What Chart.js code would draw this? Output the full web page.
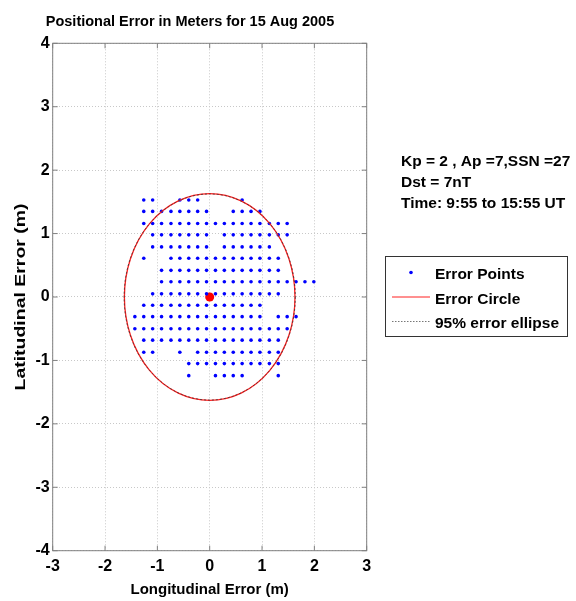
<!DOCTYPE html>
<html>
<head>
<meta charset="utf-8">
<script src="https://cdn.jsdelivr.net/npm/chart.js@4.4.1/dist/chart.umd.min.js"></script>
<style>
  body { margin: 0; background: #fff; }
  #wrap { width: 576px; height: 601px; }
</style>
</head>
<body>
<div id="wrap"><canvas id="grafico"></canvas></div>
<script>
const titulo = "Positional Error in Meters for 15 Aug 2005";
const infoLinhas = ["Kp = 2 , Ap =7,SSN =27", "Dst = 7nT", "Time: 9:55 to 15:55 UT"];
const legendaTextos = ["Error Points", "Error Circle", "95% error ellipse"];
const tituloX = "Longitudinal Error (m)";
const tituloY = "Latitudinal Error (m)";

const xTicks = [-3, -2, -1, 0, 1, 2, 3];
const yTicks = [-4, -3, -2, -1, 0, 1, 2, 3, 4];

// latitude de cada linha de pontos (m)
const latLinhas = [1.53, 1.35, 1.16, 0.98, 0.79, 0.61, 0.42, 0.24, 0.05, -0.13, -0.31, -0.50, -0.68, -0.87, -1.05, -1.24];
// longitudes presentes em cada linha (m)
const lonLinhas = [
    [-1.26, -1.09, -0.57, -0.40, -0.23, 0.62],
    [-1.26, -1.09, -0.92, -0.74, -0.57, -0.40, -0.23, -0.06, 0.45, 0.62, 0.79, 0.96],
    [-1.26, -1.09, -0.92, -0.74, -0.57, -0.40, -0.23, -0.06, 0.11, 0.28, 0.45, 0.62, 0.79, 0.96, 1.14, 1.31, 1.48],
    [-1.09, -0.92, -0.74, -0.57, -0.40, -0.23, -0.06, 0.28, 0.45, 0.62, 0.79, 0.96, 1.14, 1.31, 1.48],
    [-1.09, -0.92, -0.74, -0.57, -0.40, -0.23, -0.06, 0.28, 0.45, 0.62, 0.79, 0.96, 1.14],
    [-1.26, -0.74, -0.57, -0.40, -0.23, -0.06, 0.11, 0.28, 0.45, 0.62, 0.79, 0.96, 1.14, 1.31],
    [-0.92, -0.74, -0.57, -0.40, -0.23, -0.06, 0.11, 0.28, 0.45, 0.62, 0.79, 0.96, 1.14, 1.31],
    [-0.92, -0.74, -0.57, -0.40, -0.23, -0.06, 0.11, 0.28, 0.45, 0.62, 0.79, 0.96, 1.14, 1.31, 1.48, 1.65, 1.82, 1.99],
    [-1.09, -0.92, -0.74, -0.57, -0.40, -0.23, -0.06, 0.11, 0.28, 0.45, 0.62, 0.79, 0.96, 1.14, 1.31],
    [-1.26, -1.09, -0.92, -0.74, -0.57, -0.40, -0.23, -0.06, 0.11, 0.28, 0.45, 0.62, 0.79, 0.96],
    [-1.43, -1.26, -1.09, -0.92, -0.74, -0.57, -0.40, -0.23, -0.06, 0.11, 0.28, 0.45, 0.62, 0.79, 0.96, 1.31, 1.48, 1.65],
    [-1.43, -1.26, -1.09, -0.92, -0.74, -0.57, -0.40, -0.23, -0.06, 0.11, 0.28, 0.45, 0.62, 0.79, 0.96, 1.14, 1.31, 1.48],
    [-1.26, -1.09, -0.92, -0.74, -0.57, -0.40, -0.23, -0.06, 0.11, 0.28, 0.45, 0.62, 0.79, 0.96, 1.14, 1.31],
    [-1.26, -1.09, -0.57, -0.23, -0.06, 0.11, 0.28, 0.45, 0.62, 0.79, 0.96, 1.14, 1.31],
    [-0.40, -0.23, -0.06, 0.11, 0.28, 0.45, 0.62, 0.79, 0.96, 1.14, 1.31],
    [-0.40, 0.11, 0.28, 0.45, 0.62, 1.31]
];

const centro = [0, 0];
const raioCirculo = 1.63;
const elipse95 = [1.635, 1.625]; // semi-eixos lon, lat

const fonte = "'Liberation Sans', Arial, Helvetica, sans-serif";

const pontos = [];
latLinhas.forEach((lat, i) => {
    lonLinhas[i].forEach(lon => pontos.push({ x: lon, y: lat }));
});

const desenhoExtra = {
    id: 'desenhoExtra',
    afterDatasetsDraw(chart) {
        const ctx = chart.ctx;
        const sx = chart.scales.x;
        const sy = chart.scales.y;
        const area = chart.chartArea;
        const cx = sx.getPixelForValue(centro[0]);
        const cy = sy.getPixelForValue(centro[1]);

        ctx.save();
        // circulo de erro
        ctx.beginPath();
        ctx.ellipse(cx, cy,
            sx.getPixelForValue(centro[0] + raioCirculo) - cx,
            cy - sy.getPixelForValue(centro[1] + raioCirculo), 0, 0, Math.PI * 2);
        ctx.strokeStyle = '#ff2020';
        ctx.lineWidth = 1.3;
        ctx.stroke();
        // elipse 95%
        ctx.beginPath();
        ctx.ellipse(cx, cy,
            sx.getPixelForValue(centro[0] + elipse95[0]) - cx,
            cy - sy.getPixelForValue(centro[1] + elipse95[1]), 0, 0, Math.PI * 2);
        ctx.setLineDash([2, 2]);
        ctx.strokeStyle = '#333';
        ctx.lineWidth = 0.8;
        ctx.stroke();
        ctx.setLineDash([]);

        // caixa e marcas
        ctx.strokeStyle = '#808080';
        ctx.lineWidth = 1;
        ctx.strokeRect(area.left, area.top, area.right - area.left, area.bottom - area.top);
        ctx.beginPath();
        xTicks.forEach(v => {
            const px = sx.getPixelForValue(v);
            ctx.moveTo(px, area.bottom); ctx.lineTo(px, area.bottom - 5);
            ctx.moveTo(px, area.top); ctx.lineTo(px, area.top + 5);
        });
        yTicks.forEach(v => {
            const py = sy.getPixelForValue(v);
            ctx.moveTo(area.left, py); ctx.lineTo(area.left + 5, py);
            ctx.moveTo(area.right, py); ctx.lineTo(area.right - 5, py);
        });
        ctx.stroke();
        ctx.restore();
    },
    afterDraw(chart) {
        const ctx = chart.ctx;
        const area = chart.chartArea;
        ctx.save();
        ctx.fillStyle = '#000';
        ctx.textBaseline = 'alphabetic';

        ctx.font = `bold 14.5px ${fonte}`;
        ctx.textAlign = 'center';
        ctx.fillText(titulo, 190, 26);

        // titulo do eixo y, mais alongado como no original
        ctx.save();
        ctx.font = `bold 15px ${fonte}`;
        const larg = ctx.measureText(tituloY).width;
        ctx.translate(25, (area.top + area.bottom) / 2);
        ctx.rotate(-Math.PI / 2);
        ctx.scale(187 / larg, 1);
        ctx.textAlign = 'center';
        ctx.fillText(tituloY, 0, 0);
        ctx.restore();

        ctx.textAlign = 'left';
        ctx.font = `bold 15.5px ${fonte}`;
        infoLinhas.forEach((t, i) => ctx.fillText(t, 401, 166 + i * 21));

        // legenda
        ctx.strokeStyle = '#333';
        ctx.lineWidth = 1;
        ctx.strokeRect(385.5, 256.5, 182, 80);
        legendaTextos.forEach((t, i) => ctx.fillText(t, 435, 279 + i * 24.5));

        ctx.fillStyle = '#0000ff';
        ctx.beginPath();
        ctx.arc(411, 272.5, 1.8, 0, Math.PI * 2);
        ctx.fill();

        ctx.beginPath();
        ctx.moveTo(392, 297); ctx.lineTo(430, 297);
        ctx.strokeStyle = '#ff2020';
        ctx.stroke();

        ctx.beginPath();
        ctx.setLineDash([1.5, 1.5]);
        ctx.moveTo(392, 321.5); ctx.lineTo(430, 321.5);
        ctx.strokeStyle = '#777';
        ctx.stroke();
        ctx.restore();
    }
};

const fonteEixo = { family: fonte, size: 15, weight: 'bold' };
const fonteTicks = { family: fonte, size: 16, weight: 'bold' };

new Chart(document.getElementById('grafico').getContext('2d'), {
    type: 'scatter',
    data: {
        datasets: [
            {
                label: legendaTextos[0],
                data: pontos,
                pointRadius: 1.8,
                pointBackgroundColor: '#0000ff',
                pointBorderWidth: 0
            },
            {
                label: 'centro',
                data: [{ x: centro[0], y: centro[1] }],
                pointRadius: 4.5,
                pointBackgroundColor: '#ff0000',
                pointBorderWidth: 0
            }
        ]
    },
    options: {
        responsive: true,
        maintainAspectRatio: false,
        animation: false,
        layout: { padding: { left: 0, right: 209.3, top: 43.3, bottom: 0 } },
        plugins: {
            legend: { display: false },
            title: { display: false },
            tooltip: { enabled: false }
        },
        scales: {
            x: {
                type: 'linear',
                min: -3, max: 3,
                afterBuildTicks: s => { s.ticks = xTicks.map(v => ({ value: v })); },
                ticks: { color: '#000', font: fonteTicks, padding: 6, maxRotation: 0 },
                grid: { color: '#c8c8c8', drawTicks: false },
                border: { display: false, dash: [1, 2] },
                title: { display: true, text: tituloX, color: '#000', font: fonteEixo, padding: { top: 0, bottom: 2.5 } },
                afterFit: s => { s.height = 50.3; }
            },
            y: {
                type: 'linear',
                min: -4, max: 4,
                afterBuildTicks: s => { s.ticks = yTicks.map(v => ({ value: v })); },
                ticks: { color: '#000', font: fonteTicks, padding: 3 },
                grid: { color: '#c8c8c8', drawTicks: false },
                border: { display: false, dash: [1, 2] },
                title: { display: false },
                afterFit: s => { s.width = 52.7; }
            }
        }
    },
    plugins: [desenhoExtra]
});
</script>
</body>
</html>
